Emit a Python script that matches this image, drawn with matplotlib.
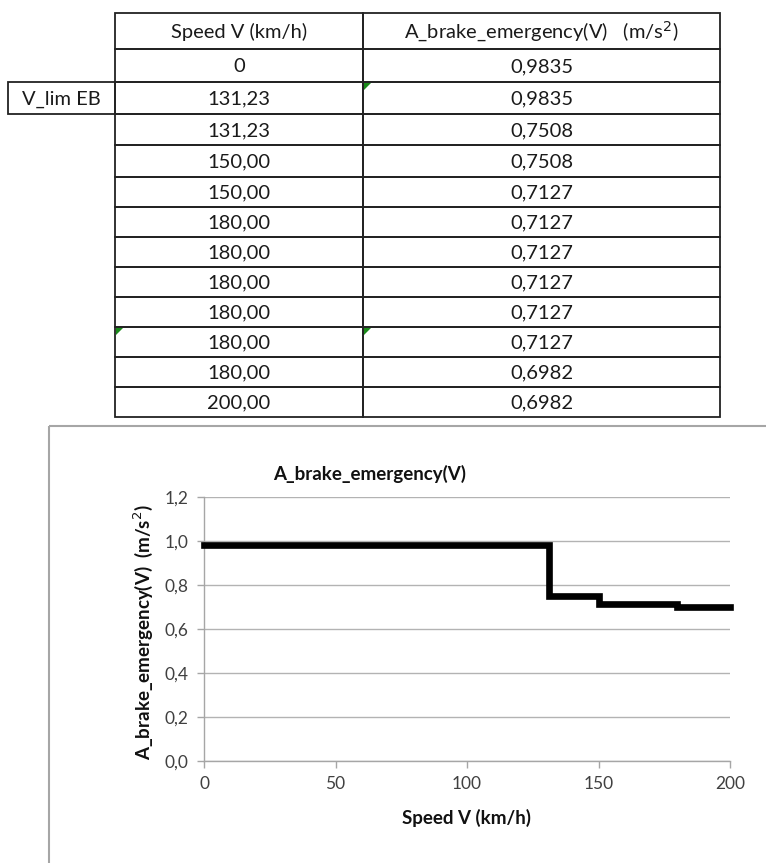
import matplotlib
matplotlib.use("Agg")
import matplotlib.pyplot as plt
from matplotlib.patches import Rectangle, Polygon
from matplotlib.ticker import FuncFormatter

plt.rcParams['font.family'] = ['Lato', 'DejaVu Sans']

# ---- data ----
speed = [0, 131.23, 131.23, 150.00, 150.00, 180.00, 180.00, 180.00, 180.00, 180.00, 180.00, 200.00]
accel = [0.9835, 0.9835, 0.7508, 0.7508, 0.7127, 0.7127, 0.7127, 0.7127, 0.7127, 0.7127, 0.6982, 0.6982]
header_speed = "Speed V (km/h)"
header_accel = "A_brake_emergency(V)   (m/s$^2$)"
row_label = "V_lim EB"
row_label_index = 1
chart_title = "A_brake_emergency(V)"
x_label = "Speed V (km/h)"
y_label = "A_brake_emergency(V)  (m/s$^2$)"
y_ticks = [0.0, 0.2, 0.4, 0.6, 0.8, 1.0, 1.2]
x_ticks = [0, 50, 100, 150, 200]

W, H = 766, 863
fig = plt.figure(figsize=(W / 100, H / 100), dpi=100)
fig.patch.set_facecolor('white')

# ---- table (drawn in a pixel-coordinate overlay axes) ----
tab = fig.add_axes([0, 0, 1, 1])
tab.set_xlim(0, W)
tab.set_ylim(H, 0)
tab.axis('off')

row_lines = [13, 49, 82, 114, 145, 177, 207, 237, 267, 297, 327, 357, 387, 417]
c0, c1, c2 = 115, 363, 720
lbl_x0 = 8
lc = '#222222'
lw = 1.3
fs = 14.5
tc = '#1a1a1a'


def fmt_speed(v):
    return "0" if v == 0 else f"{v:.2f}".replace('.', ',')


def fmt_acc(v):
    return f"{v:.4f}".replace('.', ',')


# header
tab.add_patch(Rectangle((c0, row_lines[0]), c1 - c0, row_lines[1] - row_lines[0], fill=False, ec=lc, lw=lw))
tab.add_patch(Rectangle((c1, row_lines[0]), c2 - c1, row_lines[1] - row_lines[0], fill=False, ec=lc, lw=lw))
ymid = (row_lines[0] + row_lines[1]) / 2 + 1
tab.text((c0 + c1) / 2, ymid, header_speed, ha='center', va='center', fontsize=fs, color=tc)
tab.text((c1 + c2) / 2, ymid, header_accel, ha='center', va='center', fontsize=fs, color=tc)

for i, (s, a) in enumerate(zip(speed, accel)):
    y0, y1 = row_lines[i + 1], row_lines[i + 2]
    ym = (y0 + y1) / 2 + 1
    tab.add_patch(Rectangle((c0, y0), c1 - c0, y1 - y0, fill=False, ec=lc, lw=lw))
    tab.add_patch(Rectangle((c1, y0), c2 - c1, y1 - y0, fill=False, ec=lc, lw=lw))
    tab.text((c0 + c1) / 2, ym, fmt_speed(s), ha='center', va='center', fontsize=fs, color=tc)
    tab.text((c1 + c2) / 2, ym, fmt_acc(a), ha='center', va='center', fontsize=fs, color=tc)
    if i == row_label_index:
        tab.add_patch(Rectangle((lbl_x0, y0), c0 - lbl_x0, y1 - y0, fill=False, ec=lc, lw=lw))
        tab.text((lbl_x0 + c0) / 2, ym, row_label, ha='center', va='center', fontsize=fs, color=tc)


# green comment/error triangles
def tri(x, y, s=7):
    tab.add_patch(Polygon([(x, y), (x + s, y), (x, y + s)], closed=True, fc='#1a8a1a', ec='none'))


tri(c1 + 1, row_lines[2] + 1)
tri(c0 + 1, row_lines[10] + 1)
tri(c1 + 1, row_lines[10] + 1)

# chart area border
tab.plot([49, 49], [426, H], color='#a6a6a6', lw=1.5, solid_capstyle='butt')
tab.plot([49, W], [426, 426], color='#a6a6a6', lw=1.5, solid_capstyle='butt')

# ---- chart ----
px0, px1 = 204, 730
py_top, py_bot = 497, 761
ax = fig.add_axes([px0 / W, 1 - py_bot / H, (px1 - px0) / W, (py_bot - py_top) / H])
ax.set_xlim(0, 200)
ax.set_ylim(0, 1.2)
ax.set_yticks(y_ticks)
ax.set_xticks(x_ticks)
ax.yaxis.set_major_formatter(FuncFormatter(lambda v, p: f"{v:.1f}".replace('.', ',')))
ax.xaxis.set_major_formatter(FuncFormatter(lambda v, p: f"{int(round(v))}"))
ax.grid(axis='y', color='#b3b3b3', lw=1.0)
ax.set_axisbelow(True)
for sp in ['top', 'right']:
    ax.spines[sp].set_visible(False)
for sp in ['left', 'bottom']:
    ax.spines[sp].set_color('#a6a6a6')
    ax.spines[sp].set_linewidth(1.0)
ax.tick_params(axis='both', colors='#a6a6a6', labelcolor='#404040', labelsize=12.5, length=5, width=1.0, pad=6)
ax.plot(speed, accel, color='black', lw=4.8, solid_joinstyle='miter', clip_on=False, zorder=3)

fig.text(370 / W, 1 - 474 / H, chart_title, ha='center', va='center', fontsize=13.5, fontweight='bold', color='#111111')
fig.text(467 / W, 1 - 818 / H, x_label, ha='center', va='center', fontsize=13.5, fontweight='bold', color='#111111')
fig.text(143 / W, 1 - 632 / H, y_label, ha='center', va='center', rotation=90, fontsize=13.5, fontweight='bold', color='#111111')

fig.savefig('out.png', dpi=100, facecolor='white')
